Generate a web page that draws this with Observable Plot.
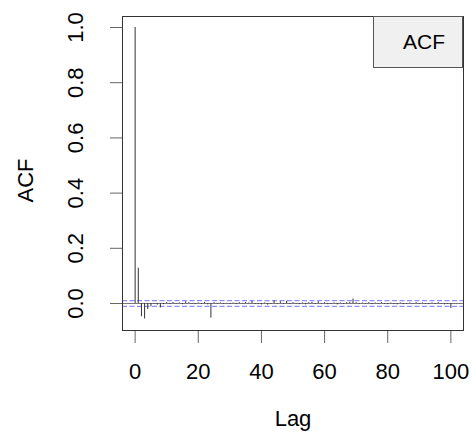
<!DOCTYPE html>
<html>
<head>
<meta charset="utf-8">
<script src="https://cdn.jsdelivr.net/npm/d3@7"></script>
<script src="https://cdn.jsdelivr.net/npm/@observablehq/plot@0.6"></script>
<style>
  html, body { margin: 0; padding: 0; background: #fff; }
  #wrap { position: relative; width: 472px; height: 444px; font-family: "Liberation Sans", Arial, sans-serif; }
  #legend { position: absolute; left: 373px; top: 16px; width: 90px; height: 52px; background: #f0f0f0; border: 1px solid #555;
            font-size: 21px; color: #000; display: flex; align-items: center; justify-content: flex-end; padding-right: 17px; box-sizing: border-box; }
</style>
</head>
<body>
<div id="wrap"></div>
<script>
// ACF values by lag
const lags = d3.range(0, 101);
const acf = [
  1.0, 0.128, -0.048, -0.056, -0.022, -0.012, -0.003, -0.006, -0.016, -0.004,
  0.003, -0.003, 0.004, -0.002, 0.002, -0.004, 0.006, 0.003, -0.002, -0.004,
  0.002, -0.003, 0.004, -0.005, -0.053, 0.003, -0.002, 0.002, -0.003, 0.001,
  -0.003, 0.002, -0.004, 0.003, -0.002, 0.004, 0.002, 0.008, -0.003, -0.004,
  -0.005, 0.002, -0.006, -0.003, 0.009, -0.002, 0.006, -0.003, 0.008, -0.002,
  0.003, -0.002, -0.004, 0.002, -0.005, 0.003, 0.004, -0.003, 0.006, -0.002,
  0.003, -0.004, -0.003, 0.002, -0.005, 0.002, -0.003, 0.003, 0.004, 0.016,
  0.003, -0.003, 0.002, -0.002, 0.003, -0.004, 0.002, -0.002, 0.003, -0.003,
  -0.004, 0.002, -0.003, -0.005, 0.002, -0.004, -0.003, 0.002, -0.002, 0.003,
  -0.003, 0.002, -0.003, -0.004, 0.002, -0.003, 0.003, -0.002, -0.005, -0.003,
  -0.018
];
const confBounds = [0.0105, -0.0105];
const xTicks = [0, 20, 40, 60, 80, 100];
const yTicks = [0.0, 0.2, 0.4, 0.6, 0.8, 1.0];
const xLabel = "Lag";
const yLabel = "ACF";
const legendLabel = "ACF";

const data = lags.map((l, i) => ({lag: l, acf: acf[i]}));
const font = "Liberation Sans, Arial, sans-serif";

const chart = Plot.plot({
  width: 472,
  height: 444,
  marginLeft: 122,
  marginRight: 9,
  marginTop: 16,
  marginBottom: 114,
  style: {fontFamily: font, background: "#fff", color: "#000"},
  x: {domain: [-4, 104]},
  y: {domain: [-0.0978, 1.0399]},
  marks: [
    Plot.axisX({ticks: xTicks, tickSize: 13, tickPadding: 20, fontSize: 22, stroke: "#666", fill: "#000", label: null, tickFormat: d => String(d)}),
    Plot.axisY({ticks: yTicks, tickSize: 12, text: null, stroke: "#666", label: null}),
    Plot.text(yTicks, {y: d => d, frameAnchor: "left", textAnchor: "middle", lineAnchor: "middle", dx: -47, rotate: -90, text: d => d.toFixed(1), fontSize: 22, fill: "#000"}),
    Plot.text([yLabel], {frameAnchor: "left", textAnchor: "middle", lineAnchor: "middle", dx: -97, dy: 7, rotate: -90, text: d => d, fontSize: 22, fill: "#000"}),
    Plot.text([xLabel], {frameAnchor: "bottom", textAnchor: "middle", lineAnchor: "middle", dy: 88, text: d => d, fontSize: 22, fill: "#000"}),
    Plot.ruleY([0], {stroke: "#777", strokeWidth: 1.2}),
    Plot.ruleY(confBounds, {stroke: "#6a6aff", strokeWidth: 1.2, strokeDasharray: "5,2.5", strokeOpacity: 0.75}),
    Plot.ruleX(data, {x: "lag", y1: 0, y2: "acf", stroke: "#333", strokeWidth: 1}),
    Plot.frame({stroke: "#333", strokeWidth: 1})
  ]
});

const wrap = document.getElementById("wrap");
wrap.appendChild(chart);
const lg = document.createElement("div");
lg.id = "legend";
lg.textContent = legendLabel;
wrap.appendChild(lg);
</script>
</body>
</html>
